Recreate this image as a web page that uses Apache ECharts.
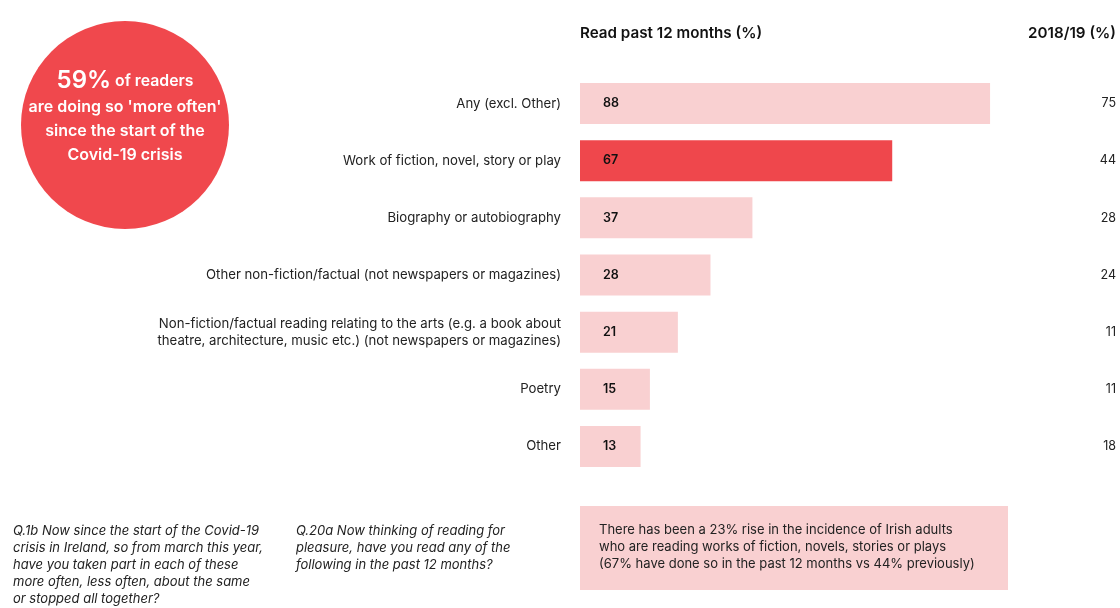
<!DOCTYPE html>
<html><head><meta charset="utf-8">
<script src="https://cdn.jsdelivr.net/npm/echarts@6/dist/echarts.min.js"></script>
<style>html,body{margin:0;padding:0;background:#fff}#c{width:1120px;height:608px}</style>
</head><body><div id="c"></div>
<script>
const categories = [
  "Any (excl. Other)",
  "Work of fiction, novel, story or play",
  "Biography or autobiography",
  "Other non-fiction/factual (not newspapers or magazines)",
  "Non-fiction/factual reading relating to the arts (e.g. a book about\ntheatre, architecture, music etc.) (not newspapers or magazines)",
  "Poetry",
  "Other"
];
const past12Months = [88, 67, 37, 28, 21, 15, 13];
const previous201819 = [75, 44, 28, 24, 11, 11, 18];
const highlightIndex = 1;

const FONT = 'Inter, "Noto Sans", sans-serif';
const chart = echarts.init(document.getElementById('c'));
chart.setOption({
  animation: false,
  grid: {left: 580, top: 75, width: 466, height: 400, containLabel: false},
  xAxis: {type: 'value', min: 0, max: 100, show: false},
  yAxis: [{
    type: 'category', data: categories, inverse: true,
    axisLine: {show: false}, axisTick: {show: false},
    axisLabel: {margin: 19, color: '#222', fontSize: 13.2, fontFamily: FONT, lineHeight: 17, align: 'right'}
  }, {
    type: 'category', data: previous201819.map(String), inverse: true, position: 'right',
    axisLine: {show: false}, axisTick: {show: false},
    axisLabel: {margin: 70, align: 'right', color: '#222', fontSize: 12.5, fontFamily: FONT}
  }],
  series: [{
    type: 'bar', barWidth: 41,
    data: past12Months.map((v, i) => ({value: v, itemStyle: {color: i === highlightIndex ? '#ef474c' : '#f9d0d1'}})),
    label: {show: true, position: 'insideLeft', offset: [18, 0], color: '#111', fontSize: 12.5, fontWeight: 600, fontFamily: FONT,
      formatter: p => p.value}
  }],
  graphic: [
    {type: 'text', x: 580, y: 33, style: {text: 'Read past 12 months (%)', font: '600 15.2px ' + FONT, fill: '#111', verticalAlign: 'middle'}},
    {type: 'text', x: 1116, y: 33, style: {text: '2018/19 (%)', font: '600 15.2px ' + FONT, fill: '#111', align: 'right', verticalAlign: 'middle'}},
    {type: 'circle', shape: {cx: 125, cy: 125, r: 104}, style: {fill: '#f0484d'}},
    {type: 'text', x: 125, y: 81, style: {
      text: '{a|59%}{b| of readers}', align: 'center', verticalAlign: 'middle',
      rich: {a: {font: '600 24px ' + FONT, fill: '#fff'}, b: {font: '600 15.8px ' + FONT, fill: '#fff'}}}},
    {type: 'text', x: 125, y: 107, style: {text: "are doing so 'more often'", align: 'center', verticalAlign: 'middle', font: '600 16px ' + FONT, fill: '#fff'}},
    {type: 'text', x: 125, y: 131, style: {text: 'since the start of the', align: 'center', verticalAlign: 'middle', font: '600 16px ' + FONT, fill: '#fff'}},
    {type: 'text', x: 125, y: 155, style: {text: 'Covid-19 crisis', align: 'center', verticalAlign: 'middle', font: '600 16px ' + FONT, fill: '#fff'}},
    {type: 'text', x: 13, y: 523, style: {text: 'Q.1b Now since the start of the Covid-19\ncrisis in Ireland, so from march this year,\nhave you taken part in each of these\nmore often, less often, about the same\nor stopped all together?', font: 'italic 13px ' + FONT, fill: '#222', lineHeight: 17}},
    {type: 'text', x: 296, y: 523, style: {text: 'Q.20a Now thinking of reading for\npleasure, have you read any of the\nfollowing in the past 12 months?', font: 'italic 13px ' + FONT, fill: '#222', lineHeight: 17}},
    {type: 'rect', shape: {x: 580, y: 506, width: 428, height: 84}, style: {fill: '#f9d0d1'}},
    {type: 'text', x: 599, y: 522, style: {text: 'There has been a 23% rise in the incidence of Irish adults\nwho are reading works of fiction, novels, stories or plays\n(67% have done so in the past 12 months vs 44% previously)', font: '13px ' + FONT, fill: '#222', lineHeight: 17}}
  ]
});
</script></body></html>
